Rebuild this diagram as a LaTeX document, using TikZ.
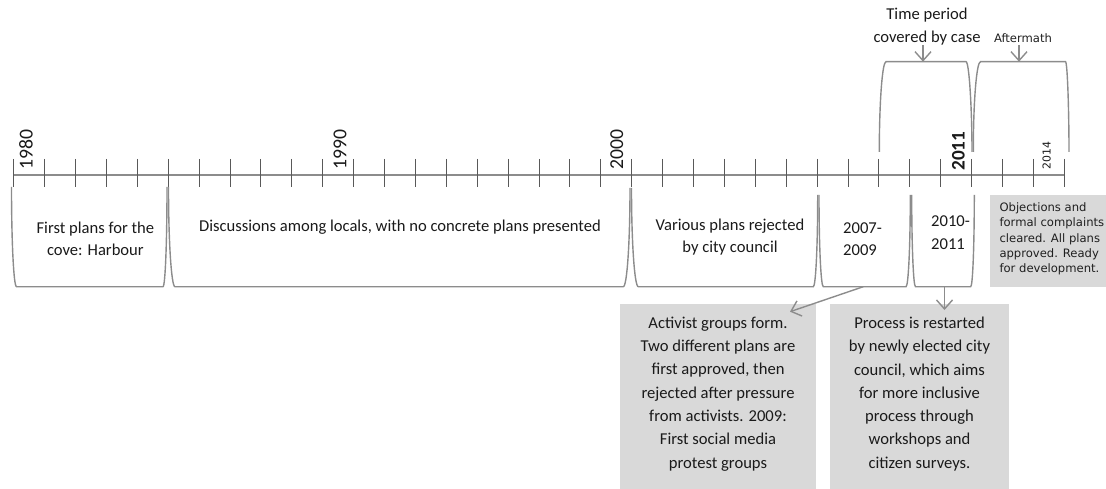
\documentclass[tikz,border=0pt]{standalone}
\usepackage{fontspec}
\setmainfont{Carlito}
\newfontfamily\smallsans{DejaVu Sans}
\usetikzlibrary{arrows.meta}
\definecolor{linegray}{HTML}{8C8C8C}
\definecolor{tickgray}{HTML}{595959}
\definecolor{boxgray}{HTML}{D9D9D9}
\definecolor{txt}{HTML}{1A1A1A}
\definecolor{smalltxt}{HTML}{1F1F1F}
% bottom bracket: xlt, ylt, xlc, xrc, xrt, yrt (bottom at 286.7)
\newcommand{\BotBracket}[6]{%
  \draw[bracketline] (#1,#2) .. controls (#1,{#2+0.5523*(286.7-#2)}) and ({#3-0.5523*(#3-#1)},286.7) .. (#3,286.7)
    -- (#4,286.7) .. controls ({#4+0.5523*(#5-#4)},286.7) and (#5,{#6+0.5523*(286.7-#6)}) .. (#5,#6);}
% top bracket: xlb, xlc, xrc, xrb (bottom 152, top 61.7)
\newcommand{\TopBracket}[4]{%
  \draw[bracketline] (#1,152) .. controls (#1,{152-0.5523*(152-61.7)}) and ({#2-0.5523*(#2-#1)},61.7) .. (#2,61.7)
    -- (#3,61.7) .. controls ({#3+0.5523*(#4-#3)},61.7) and (#4,{61.7+0.5523*(152-61.7)}) .. (#4,152);}
\begin{document}
\begin{tikzpicture}[x=1pt,y=-1pt,
  bracketline/.style={draw=linegray,line width=1.4pt},
  axisline/.style={draw=linegray,line width=1.5pt},
  tickline/.style={draw=tickgray,line width=1pt},
  arr/.style={draw=linegray,line width=1.4pt,-{Straight Barb[length=9pt,width=16pt]}},
  bodytext/.style={text=txt,inner sep=0pt,align=center,font=\fontsize{16.6}{22.5}\selectfont},
  boxtext/.style={text=txt,inner sep=0pt,align=center,anchor=north,font=\fontsize{16.6}{23.3}\selectfont},
  smalltext/.style={text=smalltxt,inner sep=0pt,font=\smallsans\fontsize{11.6}{15.1}\selectfont},
  graybox/.style={fill=boxgray,draw=none,inner sep=0pt},
  yearlab/.style={text=txt,inner sep=0pt,rotate=90,anchor=west,font=\fontsize{19.7}{20}\selectfont}
]
\useasboundingbox (0,0) rectangle (1106,489);

% axis and ticks
\draw[axisline] (13.7,175) -- (1064.3,175);
\foreach \i in {0,...,34} {\draw[tickline] ({13.7+30.9*\i},159) -- ({13.7+30.9*\i},187);}

% year labels
\node[yearlab] (y1980) at (26,170) {1980};
\node[yearlab] (y1990) at (340,170) {1990};
\node[yearlab] (y2000) at (616.7,170) {2000};
\node[yearlab,font=\bfseries\fontsize{19.2}{20}\selectfont] (y2011) at (958.3,170.7) {2011};
\node[yearlab,font=\smallsans\fontsize{10.9}{12}\selectfont] (y2014) at (1046.7,169.3) {2014};

% bottom brackets
\BotBracket{11.5}{187}{16.5}{163}{167}{187}
\BotBracket{168.5}{187}{175}{623.3}{630}{188}
\BotBracket{631.5}{188}{638.3}{813.3}{817.7}{195}
\BotBracket{819}{195}{823.3}{906}{910.3}{195}
\BotBracket{911.7}{195}{915.5}{970.7}{974.3}{195}

% top brackets
\TopBracket{879.3}{886}{966}{972}
\TopBracket{973.3}{980.5}{1065.5}{1069}

% bracket texts
\node[bodytext] (t1) at (95.4,238.6) {First plans for the\\cove: Harbour};
\node[bodytext] (t2) at (400,227.5) {Discussions among locals, with no concrete plans presented};
\node[bodytext] (t3) at (730,237.2) {Various plans rejected\\by city council};
\node[bodytext,align=left] (t4) at (862.6,239.2) {2007-\\2009};
\node[bodytext,align=left] (t5) at (950.6,232.5) {2010-\\2011};

% top labels
\node[bodytext,font=\fontsize{16.6}{23.3}\selectfont] (tp) at (927,26.7) {Time period\\covered by case};
\node[smalltext] (am) at (1023,38.3) {Aftermath};
\coordinate (tpS) at (923,45);
\coordinate (tpE) at (923,61.7);
\coordinate (amS) at (1019,45);
\coordinate (amE) at (1019,61.7);
\draw[arr] (tpS) -- (tpE);
\draw[arr] (amS) -- (amE);

% gray boxes
\node[graybox,minimum width=116pt,minimum height=91.7pt,anchor=north west] (objbox) at (990,195) {};
\node[smalltext,align=left,anchor=north west] (objtext) at (999.3,202.8)
  {Objections and\\formal complaints\\cleared. All plans\\approved. Ready\\for development.};

\node[graybox,minimum width=196pt,minimum height=186pt,anchor=north west] (actbox) at (620,303.3) {};
\node[boxtext] (acttext) at (718,316.7)
  {Activist groups form.\\Two different plans are\\first approved, then\\rejected after pressure\\from activists. 2009:\\First social media\\protest groups};

\node[graybox,minimum width=179pt,minimum height=186pt,anchor=north west] (procbox) at (830,303.3) {};
\node[boxtext] (proctext) at (919.5,316.7)
  {Process is restarted\\by newly elected city\\council, which aims\\for more inclusive\\process through\\workshops and\\citizen surveys.};

% arrows from brackets to boxes
\coordinate (b4) at (863.3,286.7);
\coordinate (actTip) at (790,311.7);
\coordinate (b5) at (944.5,286.7);
\coordinate (procTip) at (944.5,310);
\draw[arr] (b4) -- (actTip);
\draw[arr] (b5) -- (procTip);
\end{tikzpicture}
\end{document}
